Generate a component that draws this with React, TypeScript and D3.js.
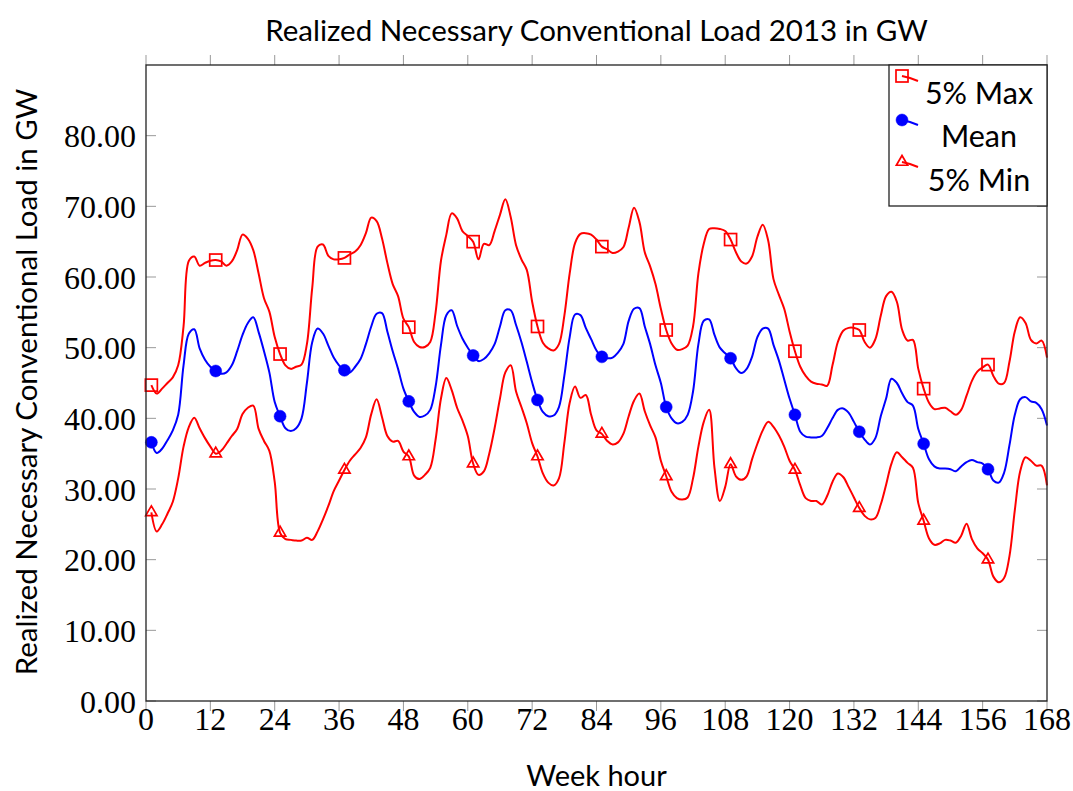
import React from 'react';
import * as d3 from 'd3';

const hours: number[] = d3.range(1, 169);

const maxLoad: number[] = [
  44.7, 43.5, 44.2, 45.0, 45.8, 47.5, 53, 62.3, 62.9, 61.6,
  62, 62.3, 62.4, 62.2, 61.6, 62.2, 63.8, 66, 65.4, 63.8,
  60.5, 57, 55.1, 51.5, 49.1, 47.5, 47, 47.3, 47.6, 50.5,
  58.5, 64.3, 64.6, 63, 62.5, 62.5, 62.7, 63.2, 63.6, 64.5,
  66.2, 68.4, 67.9, 65.5, 62, 59, 57.3, 54.1, 52.9, 50.8,
  50.1, 50.1, 50.8, 55, 62.3, 66, 69, 68.3, 66.5, 65.8,
  65, 62.5, 64.7, 64.5, 66.5, 68.8, 71, 68.5, 64.5, 62.5,
  61, 56.5, 53, 50.7, 49.9, 49.6, 50.5, 54.5, 60.5, 64.8,
  66.1, 66.2, 66, 65.3, 64.3, 63.9, 63.4, 63.6, 64.2, 67,
  69.8, 67.8, 63.5, 61.5, 59, 55.5, 52.5, 50.6, 49.7, 49.8,
  50.3, 53, 60.5, 64.7, 66.8, 66.9, 66.8, 66.5, 65.3, 63.5,
  62.2, 61.9, 62.9, 65.7, 67.4, 65.2, 59.7, 57.5, 55.5, 52.3,
  49.5, 47.3, 46, 45.2, 44.9, 44.8, 44.6, 47.5, 50.8, 52.4,
  52.8, 52.8, 52.5, 50.8, 50, 51.2, 54.5, 57.3, 57.9, 56.5,
  52.5, 51, 51.1, 47, 44.2, 42.2, 41.3, 41.4, 41.5, 41,
  40.5, 41.2, 43.2, 45.3, 46.6, 47.2, 47.6, 46, 44.9, 45,
  48, 52.3, 54.3, 53.5, 51.1, 50.6, 51, 48.6,
];

const meanLoad: number[] = [
  36.6, 35.1, 35.7, 36.9, 38.3, 40.5, 47.5, 52, 52.6, 49.9,
  48.3, 47.3, 46.7, 46.3, 46.5, 47.5, 49.5, 51.8, 53.5, 54.3,
  52.2, 49.5, 46.5, 42.3, 40.3, 38.6, 38.2, 38.6, 40, 45,
  50.8, 52.7, 52, 50.3, 48.6, 47.5, 46.8, 46.5, 47.3, 48.4,
  50.5, 53, 54.8, 54.9, 52.3, 49.5, 47, 44.2, 42.4, 40.9,
  40.2, 40.4, 41.2, 44.5, 50.4, 54.6, 55.3, 53.1, 51.3, 50,
  48.9, 48.1, 48.4, 49.2, 50.5, 53, 55.3, 55.3, 53.2, 50.8,
  48, 45.1, 42.6, 40.9, 40.3, 40.4, 41.6, 46, 51.5, 54.7,
  54.6, 52.8, 51.2, 49.6, 48.7, 48.5, 48.6, 49.3, 50.5, 53.8,
  55.5, 55.6, 53, 50.5, 47.5, 45, 41.6, 40, 39.3, 39.5,
  40.5, 43.8, 50.5, 53.8, 54, 51.8, 50, 49.2, 48.5, 47.1,
  46.4, 47, 48.7, 51.5, 52.7, 52.7, 50.4, 48.2, 45.5, 42.8,
  40.5, 38.1, 37.4, 37.3, 37.3, 37.5, 38.6, 40, 41.2, 41.4,
  40.8, 39.5, 38.1, 37, 36.3, 37.2, 40.3, 42.8, 45.6, 45,
  43.5, 42.3, 41.8, 38.5, 36.4, 34.2, 33.2, 32.9, 32.9, 32.8,
  32.5, 33.2, 33.8, 34.1, 33.8, 33.6, 32.8, 31.2, 30.9, 32.3,
  36.2, 40.5, 42.7, 43, 42.4, 42.2, 41.3, 39,
];

const minLoad: number[] = [
  26.7, 24, 25, 26.5, 28.2, 31.5, 36, 38.8, 40.1, 38.6,
  37.2, 36, 35, 35.4, 36.4, 37.5, 38.5, 40.6, 41.5, 41.8,
  38.5, 36.8, 35.4, 31, 23.8, 22.9, 22.8, 22.7, 22.7, 23.1,
  22.8, 24, 25.7, 27.6, 29.7, 31.2, 32.7, 34, 34.9, 35.8,
  37.3, 40.6, 42.7, 40.2, 37.5, 36.7, 36.8, 35.3, 34.6, 31.9,
  31.4, 32, 33, 37, 42.8, 45.7, 44, 41.5, 39.7, 37.5,
  33.6, 32, 32.5, 35, 38.6, 42.8, 46.5, 47.5, 43.8, 41.6,
  39.3, 36.5, 34.6, 32.2, 30.9, 30.5, 31.5, 36.5, 42.2, 44.5,
  42.9, 43.3, 40.5, 38.3, 37.8, 36.8, 36.3, 36.6, 37.8, 40.3,
  42.5, 43.5, 41, 39, 37.3, 34, 31.8, 29.6, 28.7, 28.5,
  28.8, 31.5, 36, 39.5, 41.2, 33, 28.3, 30.3, 33.5, 31.8,
  31.3, 31.8, 34.2, 36.4, 38.3, 39.5, 38.8, 37.6, 36, 34,
  32.7, 30.5, 28.7, 28.3, 28.3, 27.8, 29, 31, 32.2, 31.7,
  30.3, 28.8, 27.3, 26.2, 25.7, 25.9, 27.8, 30.6, 33.6, 35.2,
  34.5, 33.7, 33, 28, 25.5, 23, 22.1, 22.3, 22.8, 22.7,
  22.4, 23.4, 25.1, 22.9, 21.6, 20.9, 20, 17.6, 16.8, 17.4,
  20.5, 27, 32.5, 34.5, 34, 33.3, 33.3, 30.5,
];

const xTicks: number[] = [0, 12, 24, 36, 48, 60, 72, 84, 96, 108, 120, 132, 144, 156, 168];
const yTicks: number[] = [0, 10, 20, 30, 40, 50, 60, 70, 80];
const legendLabels: string[] = ['5% Max', 'Mean', '5% Min'];

const W = 1073;
const H = 791;
const L = 146, R = 1047, T = 65, B = 701;
const SANS = 'Lato, "Open Sans", sans-serif';
const SERIF = '"Liberation Serif", "DejaVu Serif", serif';

const x = d3.scaleLinear().domain([0, 168]).range([L, R]);
const y = d3.scaleLinear().domain([0, 90]).range([B, T]);

const line = d3
  .line<number>()
  .x((_, i) => x(hours[i]))
  .y((d) => y(d))
  .curve(d3.curveCatmullRom.alpha(0.5));

const RED = '#ff0000';
const BLUE = '#0000ff';

function Square({ cx, cy, s = 12 }: { cx: number; cy: number; s?: number }) {
  return (
    <rect x={cx - s / 2} y={cy - s / 2} width={s} height={s} fill="none" stroke={RED} strokeWidth={1.7} />
  );
}
function Circle({ cx, cy }: { cx: number; cy: number }) {
  return <circle cx={cx} cy={cy} r={6} fill={BLUE} stroke={BLUE} strokeWidth={0.5} />;
}
function Tri({ cx, cy }: { cx: number; cy: number }) {
  const s = 6.5;
  const pts = [
    [cx, cy - s],
    [cx - s * 0.87, cy + s * 0.5],
    [cx + s * 0.87, cy + s * 0.5],
  ]
    .map((p) => p.join(','))
    .join(' ');
  return <polygon points={pts} fill="none" stroke={RED} strokeWidth={1.7} />;
}

export default function App() {
  const markIdx = hours.map((h, i) => i).filter((i) => (hours[i] - 1) % 12 === 0);
  const series = [
    { data: maxLoad, color: RED, mark: 'sq' },
    { data: meanLoad, color: BLUE, mark: 'ci' },
    { data: minLoad, color: RED, mark: 'tr' },
  ];
  const renderMark = (kind: string, cx: number, cy: number, key: string) =>
    kind === 'sq' ? <Square key={key} cx={cx} cy={cy} /> : kind === 'ci' ? <Circle key={key} cx={cx} cy={cy} /> : <Tri key={key} cx={cx} cy={cy} />;

  return (
    <svg width={W} height={H} style={{ position: 'absolute', left: 0, top: 0, background: 'white' }}>
      <rect x={0} y={0} width={W} height={H} fill="white" />
      {yTicks.map((t) => (
        <g key={'yt' + t}>
          <line x1={L} x2={L + 10} y1={y(t)} y2={y(t)} stroke="#999" strokeWidth={1} />
          <line x1={R - 10} x2={R} y1={y(t)} y2={y(t)} stroke="#999" strokeWidth={1} />
          <text x={136} y={y(t)} dy="0.36em" textAnchor="end" fontFamily={SERIF} fontSize={32} fill="#000">
            {t.toFixed(2)}
          </text>
        </g>
      ))}
      {xTicks.map((t) => (
        <g key={'xt' + t}>
          <line x1={x(t)} x2={x(t)} y1={B} y2={B + 10} stroke="#999" strokeWidth={1} />
          <line x1={x(t)} x2={x(t)} y1={T - 10} y2={T} stroke="#999" strokeWidth={1} />
          <text x={x(t)} y={730} textAnchor="middle" fontFamily={SERIF} fontSize={32} fill="#000">
            {t}
          </text>
        </g>
      ))}
      {series.map((s, si) => (
        <path key={'p' + si} d={line(s.data) || ''} fill="none" stroke={s.color} strokeWidth={2} strokeLinejoin="round" />
      ))}
      {series.map((s, si) => (
        <g key={'m' + si}>{markIdx.map((i) => renderMark(s.mark, x(hours[i]), y(s.data[i]), si + '-' + i))}</g>
      ))}
      <rect x={L} y={T} width={R - L} height={B - T} fill="none" stroke="#222" strokeWidth={1.3} />
      <g>
        <rect x={889} y={T} width={R - 889} height={141} fill="white" stroke="#222" strokeWidth={1.3} />
        {legendLabels.map((lab, i) => {
          const my = [76, 120, 162][i];
          const ty = [104, 147, 191][i];
          const kind = ['sq', 'ci', 'tr'][i];
          const col = i === 1 ? BLUE : RED;
          return (
            <g key={'lg' + i}>
              <path d={`M902,${my} L910,${my + 2} L918,${my + 5}`} fill="none" stroke={col} strokeWidth={2} />
              {renderMark(kind, 902, my, 'lgm' + i)}
              <text x={979} y={ty} textAnchor="middle" fontFamily={SANS} fontSize={30.5} fill="#000">
                {lab}
              </text>
            </g>
          );
        })}
      </g>
      <text x={(L + R) / 2} y={41} textAnchor="middle" fontFamily={SANS} fontSize={29.5} fill="#000">
        Realized Necessary Conventional Load 2013 in GW
      </text>
      <text x={(L + R) / 2} y={786} textAnchor="middle" fontFamily={SANS} fontSize={29} fill="#000">
        Week hour
      </text>
      <text
        transform={`translate(37,${(T + B) / 2 - 1}) rotate(-90)`}
        textAnchor="middle"
        fontFamily={SANS}
        fontSize={29.5}
        fill="#000"
      >
        Realized Necessary Conventional Load in GW
      </text>
    </svg>
  );
}
